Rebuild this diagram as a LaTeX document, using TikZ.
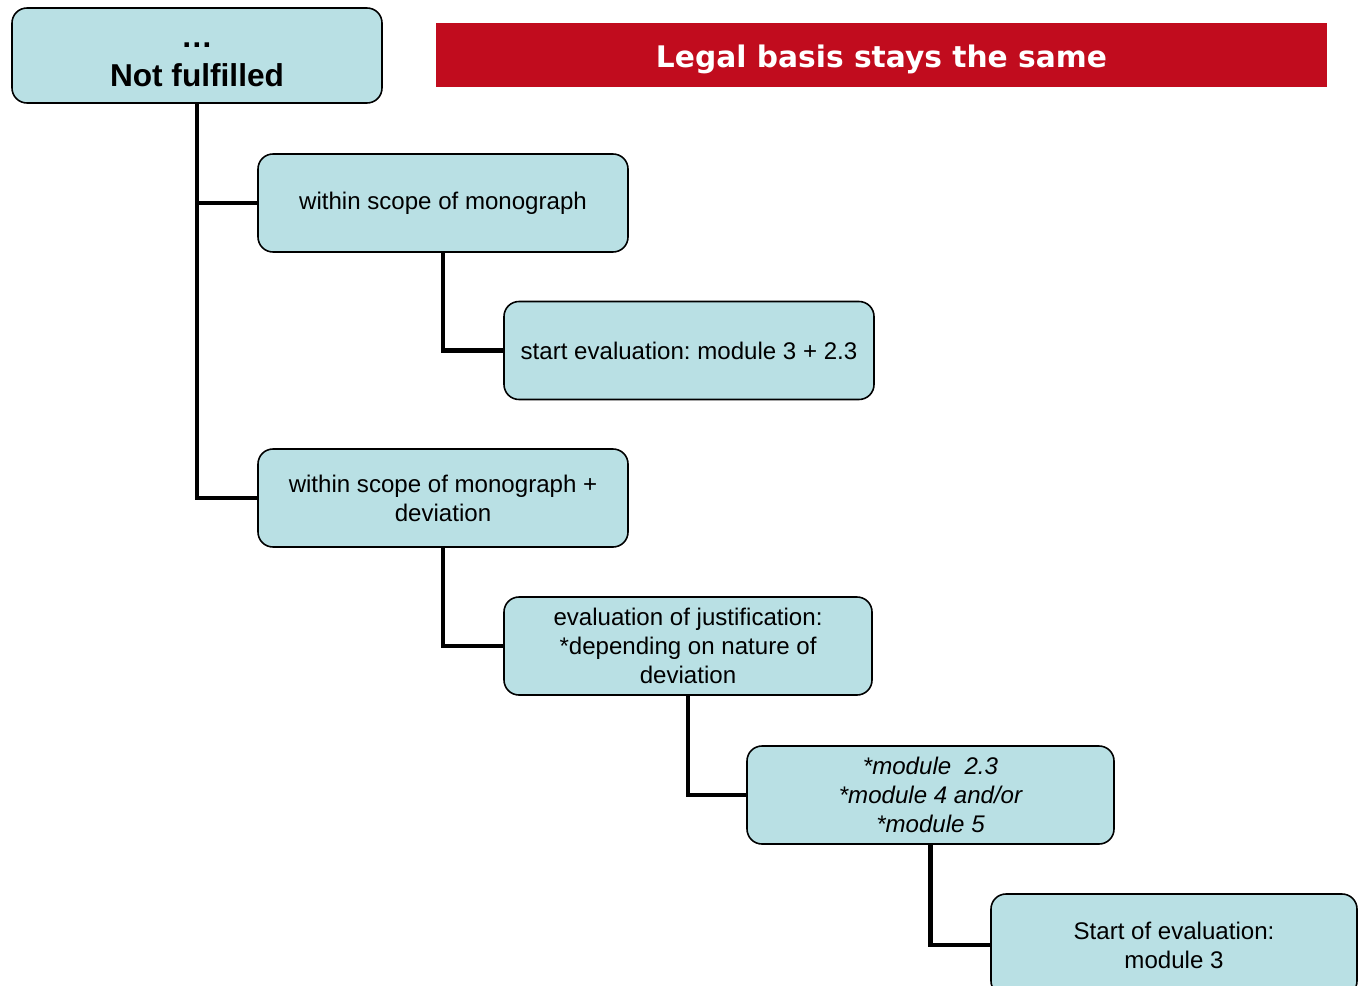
\documentclass[tikz,border=0pt]{standalone}
\usepackage{fontspec}
\setmainfont{Liberation Sans}
\newfontfamily\titlefont{DejaVu Sans}
\usepackage{tikz}
\usetikzlibrary{positioning}
\definecolor{boxcyan}{RGB}{185,224,228}
\definecolor{titlered}{RGB}{193,12,30}
\frenchspacing

\begin{document}
\begin{tikzpicture}[
    box/.style={rectangle, rounded corners=0.3cm, draw, line width=0.9pt, fill=boxcyan, align=center, minimum width=7.4cm, minimum height=1.96cm, font=\fontsize{13.7}{16.5}\selectfont},
    title/.style={rectangle, fill=titlered, text=white, minimum width=17.82cm, minimum height=1.28cm, text height=0.5cm, text depth=0cm, font=\titlefont\bfseries\fontsize{16.9}{20}\selectfont},
    link/.style={line width=2.6pt}]

    \clip (0,0) rectangle (27.34,-19.72);

    % Top
    \node[box, minimum height=1.9cm, font=\bfseries\fontsize{18}{22.5}\selectfont] (notful) at (3.94,-1.11) {\rule{0pt}{0.47cm}\dots\\Not fulfilled};
    \node[title] (legal) at (17.63,-1.1) {Legal basis stays the same};

    % Branches
    \node[box] (scope) at (8.86,-4.06) {within scope of monograph};
    \node[box] (starteval) at (13.78,-7.01) {start evaluation: module 3 + 2.3};
    \node[box] (scopedev) at (8.86,-9.96) {within scope of monograph +\\deviation};
    \node[box, minimum width=7.36cm] (justif) at (13.76,-12.92) {evaluation of justification:\\*depending on nature of\\deviation};
    \node[box, minimum width=7.34cm, font=\itshape\fontsize{13.7}{16.5}\selectfont] (modules) at (18.61,-15.9) {*module~~2.3\\*module 4 and/or\\*module 5};
    \node[box, minimum width=7.32cm, minimum height=2.04cm] (startmod) at (23.48,-18.9) {Start of evaluation:\\module 3};

    % Connections
    \draw[link] (notful.south) |- (scope.west);
    \draw[link] (notful.south) |- (scopedev.west);
    \draw[link] (scope.south) |- (starteval.west);
    \draw[link] (scopedev.south) |- (justif.west);
    \draw[link] (justif.south) |- (modules.west);
    \draw[link] (modules.south) |- (startmod.west);
\end{tikzpicture}
\end{document}
